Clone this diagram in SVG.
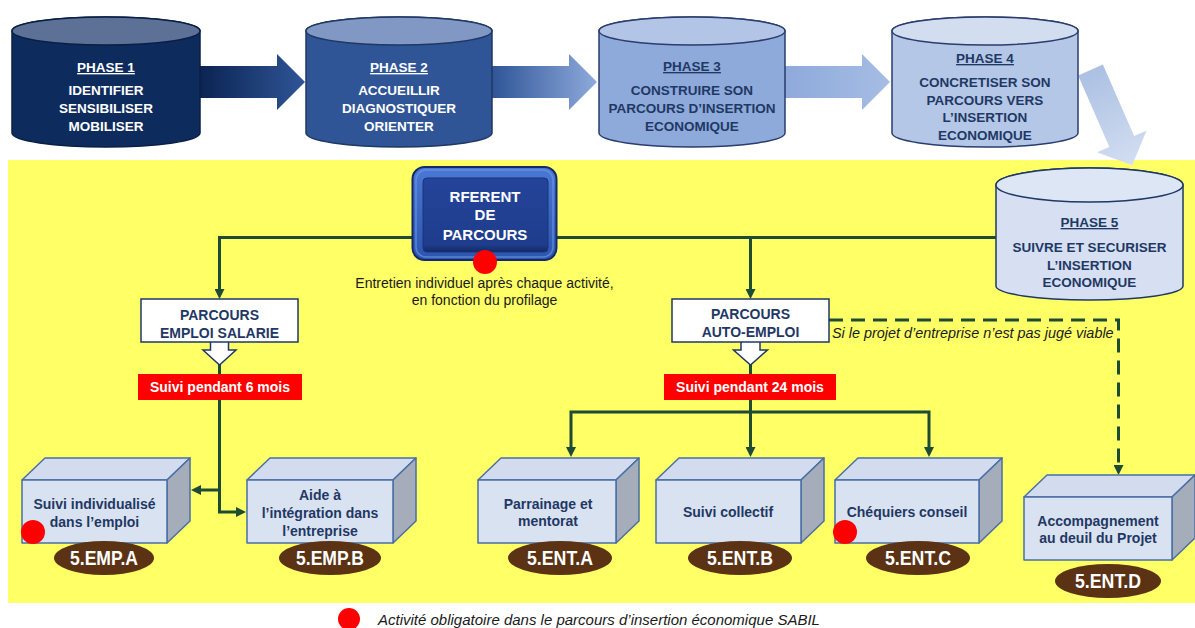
<svg xmlns="http://www.w3.org/2000/svg" width="1195" height="628" viewBox="0 0 1195 628">
  <defs>
    <linearGradient id="g-arrow1" x1="200" y1="0" x2="305" y2="0" gradientUnits="userSpaceOnUse">
      <stop offset="0" stop-color="#0b2452"/>
      <stop offset="1" stop-color="#2f5597"/>
    </linearGradient>
    <linearGradient id="g-arrow2" x1="492" y1="0" x2="597" y2="0" gradientUnits="userSpaceOnUse">
      <stop offset="0" stop-color="#2f5597"/>
      <stop offset="1" stop-color="#8eaadb"/>
    </linearGradient>
    <linearGradient id="g-arrow3" x1="785" y1="0" x2="890" y2="0" gradientUnits="userSpaceOnUse">
      <stop offset="0" stop-color="#8eaadb"/>
      <stop offset="1" stop-color="#a6bde4"/>
    </linearGradient>
    <linearGradient id="g-arrow4" x1="0" y1="0" x2="104" y2="0" gradientUnits="userSpaceOnUse">
      <stop offset="0" stop-color="#abc0e3"/>
      <stop offset="1" stop-color="#d3def1"/>
    </linearGradient>
    <linearGradient id="g-ref" x1="0" y1="167" x2="0" y2="260" gradientUnits="userSpaceOnUse">
      <stop offset="0" stop-color="#4a78d4"/>
      <stop offset="1" stop-color="#2b55b0"/>
    </linearGradient>
    <linearGradient id="g-ref-in" x1="0" y1="178" x2="0" y2="252" gradientUnits="userSpaceOnUse">
      <stop offset="0" stop-color="#24449a"/>
      <stop offset="0.9" stop-color="#1f3d8c"/>
      <stop offset="1" stop-color="#122a63"/>
    </linearGradient>
    <marker id="ah" viewBox="0 0 10 10" refX="6" refY="5" markerWidth="10" markerHeight="10" markerUnits="userSpaceOnUse" orient="auto">
      <path d="M0,0 L10,5 L0,10 Z" fill="#1d4b34"/>
    </marker>
  </defs>
  <style>
    .t{font-family:"Liberation Sans",Arial,Helvetica,sans-serif;text-anchor:middle;font-weight:bold}
    .ph{font-size:13.5px}
    .w{fill:#ffffff}
    .n{fill:#1f3864}
    .cyl{stroke-width:1.5}
    .face{stroke:#4a6fa5;stroke-width:1.5;stroke-linejoin:round}
    .front{fill:#d9e2f1}
    .top{fill:#d2dcee}
    .side{fill:#a5acba}
    .bt{font-size:14px;fill:#1f3864}
    .tag{fill:#5b3214}
    .tagt{font-size:20px;fill:#ffffff}
    .mark{fill:#ff0000}
    .conn{fill:none;stroke:#1d4b34;stroke-width:3}
    .plain{font-family:"Liberation Sans",Arial,Helvetica,sans-serif;fill:#1a1a1a}
  </style>

  <!-- background -->
  <rect x="0" y="0" width="1195" height="628" fill="#ffffff"/>
  <rect x="8" y="160" width="1187" height="443" fill="#ffff66"/>

  <!-- arrows between phases -->
  <g id="phase-arrows">
    <polygon points="200,66 277,66 277,54 305,82 277,110 277,98 200,98" fill="url(#g-arrow1)"/>
    <polygon points="492,66 569,66 569,54 597,82 569,110 569,98 492,98" fill="url(#g-arrow2)"/>
    <polygon points="785,66 862,66 862,54 890,82 862,110 862,98 785,98" fill="url(#g-arrow3)"/>
    <path d="M0,-13.5 H78 V-27 L104,0 L78,27 V13.5 H0 Z" fill="url(#g-arrow4)" transform="translate(1090.5,70) rotate(66.4)"/>
  </g>

  <!-- phase cylinders -->
  <g id="phase1">
    <path class="cyl" d="M12,31 A94,14 0 0 1 200,31 V133 A94,14 0 0 1 12,133 Z" fill="#0e2b5e" stroke="#0a1f45"/>
    <ellipse class="cyl" cx="106" cy="31" rx="94" ry="14" fill="#5d7197" stroke="#0a1f45"/>
    <text class="t ph w" x="106" y="72" text-decoration="underline">PHASE 1</text>
    <text class="t ph w" x="106" y="95">IDENTIFIER</text>
    <text class="t ph w" x="106" y="113">SENSIBILISER</text>
    <text class="t ph w" x="106" y="131">MOBILISER</text>
  </g>
  <g id="phase2">
    <path class="cyl" d="M306,31 A93,14 0 0 1 492,31 V133 A93,14 0 0 1 306,133 Z" fill="#2f5597" stroke="#1f3864"/>
    <ellipse class="cyl" cx="399" cy="31" rx="93" ry="14" fill="#8198c4" stroke="#1f3864"/>
    <text class="t ph w" x="399" y="72" text-decoration="underline">PHASE 2</text>
    <text class="t ph w" x="399" y="95">ACCUEILLIR</text>
    <text class="t ph w" x="399" y="113">DIAGNOSTIQUER</text>
    <text class="t ph w" x="399" y="131">ORIENTER</text>
  </g>
  <g id="phase3">
    <path class="cyl" d="M599,31 A93,14 0 0 1 785,31 V133 A93,14 0 0 1 599,133 Z" fill="#8eaadb" stroke="#2a3d6e"/>
    <ellipse class="cyl" cx="692" cy="31" rx="93" ry="14" fill="#b2c5e7" stroke="#2a3d6e"/>
    <text class="t ph n" x="692" y="71" text-decoration="underline">PHASE 3</text>
    <text class="t ph n" x="692" y="95">CONSTRUIRE SON</text>
    <text class="t ph n" x="692" y="113">PARCOURS D’INSERTION</text>
    <text class="t ph n" x="692" y="131">ECONOMIQUE</text>
  </g>
  <g id="phase4">
    <path class="cyl" d="M892,31 A93,14 0 0 1 1078,31 V133 A93,14 0 0 1 892,133 Z" fill="#b4c7e7" stroke="#2a3d6e"/>
    <ellipse class="cyl" cx="985" cy="31" rx="93" ry="14" fill="#d2ddf0" stroke="#2a3d6e"/>
    <text class="t ph n" x="985" y="63" text-decoration="underline">PHASE 4</text>
    <text class="t ph n" x="985" y="87">CONCRETISER SON</text>
    <text class="t ph n" x="985" y="105">PARCOURS VERS</text>
    <text class="t ph n" x="985" y="122">L’INSERTION</text>
    <text class="t ph n" x="985" y="140">ECONOMIQUE</text>
  </g>
  <g id="phase5">
    <path class="cyl" d="M996,185 A93.5,17 0 0 1 1183,185 V286 A93.5,14 0 0 1 996,286 Z" fill="#d6e0f2" stroke="#1f3864"/>
    <ellipse class="cyl" cx="1089.5" cy="185" rx="93.5" ry="17" fill="#dde6f5" stroke="#1f3864"/>
    <text class="t ph n" x="1089.5" y="227" text-decoration="underline">PHASE 5</text>
    <text class="t ph n" x="1089.5" y="252">SUIVRE ET SECURISER</text>
    <text class="t ph n" x="1089.5" y="269.5">L’INSERTION</text>
    <text class="t ph n" x="1089.5" y="287">ECONOMIQUE</text>
  </g>

  <!-- connectors -->
  <g id="connectors">
    <path class="conn" d="M412,237.5 H219.5 V295" marker-end="url(#ah)"/>
    <path class="conn" d="M556,237.5 H996"/>
    <path class="conn" d="M750.5,237.5 V295" marker-end="url(#ah)"/>
    <path class="conn" d="M219.5,364 V374"/>
    <path class="conn" d="M219.5,400 V512 H242" marker-end="url(#ah)"/>
    <path class="conn" d="M219.5,490 H195" marker-end="url(#ah)"/>
    <path class="conn" d="M750.5,364 V374"/>
    <path class="conn" d="M750.5,400 V453" marker-end="url(#ah)"/>
    <path class="conn" d="M750.5,412 H571 V453" marker-end="url(#ah)"/>
    <path class="conn" d="M750.5,412 H929 V453" marker-end="url(#ah)"/>
    <path class="conn" d="M829,320 H1118.5 V471" stroke-dasharray="14 8" marker-end="url(#ah)"/>
  </g>

  <!-- referent -->
  <g id="referent">
    <rect x="412.5" y="167" width="144" height="93" rx="12" fill="url(#g-ref)" stroke="#142a66" stroke-width="2"/>
    <rect x="416" y="170" width="137" height="87" rx="10" fill="none" stroke="#6f95e0" stroke-width="1.5" opacity="0.7"/>
    <rect x="423" y="178" width="125" height="74" rx="4" fill="url(#g-ref-in)" stroke="#1a3478" stroke-width="1"/>
    <text class="t w" x="485" y="202" font-size="15">RFERENT</text>
    <text class="t w" x="485" y="220" font-size="15">DE</text>
    <text class="t w" x="485" y="240" font-size="15">PARCOURS</text>
    <circle class="mark" cx="485" cy="262" r="12"/>
  </g>
  <g id="note-entretien">
    <text class="plain" x="484.5" y="288" font-size="14" text-anchor="middle">Entretien individuel après chaque activité,</text>
    <text class="plain" x="484.5" y="305" font-size="14" text-anchor="middle">en fonction du profilage</text>
  </g>

  <!-- salaried track -->
  <g id="parcours-emploi">
    <path d="M210.5,340 V350 H203 L219.5,365 L236,350 H228.5 V340" fill="#ffffff" stroke="#1f3864" stroke-width="1.5" stroke-linejoin="miter"/>
    <rect x="141" y="299" width="157" height="43" fill="#ffffff" stroke="#1f3864" stroke-width="1.5"/>
    <text class="t bt" x="219.5" y="320">PARCOURS</text>
    <text class="t bt" x="219.5" y="338">EMPLOI SALARIE</text>
  </g>
  <g id="suivi-6">
    <rect x="138" y="374" width="164" height="26" fill="#ff0000"/>
    <text class="t w" x="220" y="392" font-size="14">Suivi pendant 6 mois</text>
  </g>

  <!-- self-employment track -->
  <g id="parcours-auto">
    <path d="M741,340 V350 H733.5 L750.5,365 L767.5,350 H760 V340" fill="#ffffff" stroke="#1f3864" stroke-width="1.5"/>
    <rect x="672" y="299" width="157" height="43" fill="#ffffff" stroke="#1f3864" stroke-width="1.5"/>
    <text class="t bt" x="750.5" y="319">PARCOURS</text>
    <text class="t bt" x="750.5" y="337">AUTO-EMPLOI</text>
  </g>
  <g id="suivi-24">
    <rect x="664" y="374" width="172" height="26" fill="#ff0000"/>
    <text class="t w" x="750" y="392" font-size="14">Suivi pendant 24 mois</text>
  </g>
  <g id="note-viable">
    <text class="plain" x="832" y="338" font-size="14.4" font-style="italic" fill="#333333">Si le projet d’entreprise n’est pas jugé viable</text>
  </g>

  <!-- activity boxes -->
  <g id="emp-a">
    <polygon class="face top" points="22,480 45,458 190,458 167,480"/>
    <polygon class="face side" points="167,480 190,458 190,521 167,543"/>
    <rect class="face front" x="22" y="480" width="145" height="63"/>
    <text class="t bt" x="94.5" y="509">Suivi individualisé</text>
    <text class="t bt" x="94.5" y="527">dans l’emploi</text>
    <circle class="mark" cx="33" cy="532" r="12"/>
    <ellipse class="tag" cx="104" cy="558" rx="50" ry="17"/>
    <text class="t tagt" x="104" y="565" textLength="68" lengthAdjust="spacingAndGlyphs">5.EMP.A</text>
  </g>
  <g id="emp-b">
    <polygon class="face top" points="247,480 270,458 416,458 393,480"/>
    <polygon class="face side" points="393,480 416,458 416,521 393,543"/>
    <rect class="face front" x="247" y="480" width="146" height="63"/>
    <text class="t bt" x="320" y="500">Aide à</text>
    <text class="t bt" x="320" y="518">l’intégration dans</text>
    <text class="t bt" x="320" y="536">l’entreprise</text>
    <ellipse class="tag" cx="330" cy="558" rx="51" ry="17"/>
    <text class="t tagt" x="330" y="565" textLength="68" lengthAdjust="spacingAndGlyphs">5.EMP.B</text>
  </g>
  <g id="ent-a">
    <polygon class="face top" points="478,480 501,458 639,458 616,480"/>
    <polygon class="face side" points="616,480 639,458 639,521 616,543"/>
    <rect class="face front" x="478" y="480" width="138" height="63"/>
    <text class="t bt" x="548" y="509">Parrainage et</text>
    <text class="t bt" x="548" y="526">mentorat</text>
    <ellipse class="tag" cx="560" cy="558" rx="52" ry="17"/>
    <text class="t tagt" x="560" y="565" textLength="66" lengthAdjust="spacingAndGlyphs">5.ENT.A</text>
  </g>
  <g id="ent-b">
    <polygon class="face top" points="656,480 679,458 824,458 801,480"/>
    <polygon class="face side" points="801,480 824,458 824,521 801,543"/>
    <rect class="face front" x="656" y="480" width="145" height="63"/>
    <text class="t bt" x="728" y="517">Suivi collectif</text>
    <ellipse class="tag" cx="740" cy="558" rx="52" ry="17"/>
    <text class="t tagt" x="740" y="565" textLength="66" lengthAdjust="spacingAndGlyphs">5.ENT.B</text>
  </g>
  <g id="ent-c">
    <polygon class="face top" points="835,480 858,458 1002,458 979,480"/>
    <polygon class="face side" points="979,480 1002,458 1002,521 979,543"/>
    <rect class="face front" x="835" y="480" width="144" height="63"/>
    <text class="t bt" x="907" y="517">Chéquiers conseil</text>
    <circle class="mark" cx="845" cy="532" r="12"/>
    <ellipse class="tag" cx="918" cy="558" rx="52" ry="17"/>
    <text class="t tagt" x="918" y="565" textLength="66" lengthAdjust="spacingAndGlyphs">5.ENT.C</text>
  </g>
  <g id="ent-d">
    <polygon class="face top" points="1024,497 1047,475 1195,475 1172,497"/>
    <polygon class="face side" points="1172,497 1195,475 1195,538 1172,560"/>
    <rect class="face front" x="1024" y="497" width="148" height="63"/>
    <text class="t bt" x="1098" y="526">Accompagnement</text>
    <text class="t bt" x="1098" y="543">au deuil du Projet</text>
    <ellipse class="tag" cx="1108" cy="581" rx="53" ry="17"/>
    <text class="t tagt" x="1108" y="588" textLength="66" lengthAdjust="spacingAndGlyphs">5.ENT.D</text>
  </g>

  <!-- legend -->
  <g id="legend">
    <circle class="mark" cx="349" cy="619" r="11"/>
    <text class="plain" x="378" y="625" font-size="15" font-style="italic">Activité obligatoire dans le parcours d’insertion économique SABIL</text>
  </g>
</svg>
